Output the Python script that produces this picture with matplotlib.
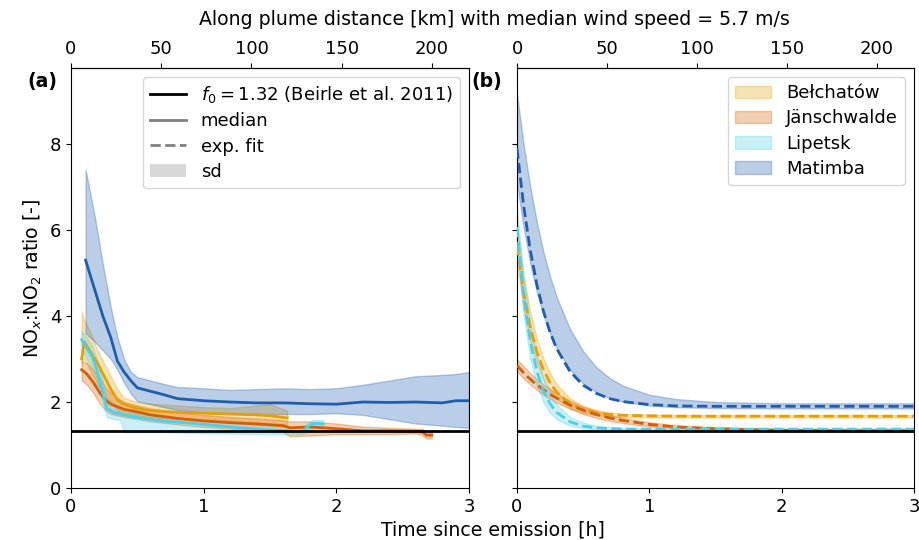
import matplotlib
matplotlib.use("Agg")
import matplotlib.pyplot as plt
from matplotlib.lines import Line2D
from matplotlib.patches import Patch

plt.rcParams['font.family'] = ['DejaVu Sans']
FS_TICK = 13
FS_LAB = 13.6
FS_LEG = 13
plt.rcParams['font.size'] = FS_TICK

# ---------------- data ----------------
plants = ['Bełchatów', 'Jänschwalde', 'Lipetsk', 'Matimba']
colors = ['#E69F00', '#D55E00', '#4DCFEA', '#1F5DB0']
f0_beirle = 1.32
km_per_hour = 73.5

# panel (a): medians and sd bands
bel_t = [0.08, 0.10, 0.15, 0.20, 0.25, 0.30, 0.35, 0.40, 0.50, 0.60, 0.80, 1.00, 1.20, 1.40, 1.50, 1.63]
bel_med = [3.00, 3.40, 3.15, 2.90, 2.60, 2.30, 2.05, 1.95, 1.85, 1.80, 1.76, 1.74, 1.72, 1.70, 1.68, 1.63]
bel_hi = [4.10, 3.90, 3.60, 3.20, 2.90, 2.60, 2.30, 2.10, 2.00, 1.96, 1.92, 1.88, 1.86, 1.92, 1.95, 1.80]
bel_lo = [2.90, 3.00, 2.70, 2.40, 2.20, 2.00, 1.80, 1.72, 1.68, 1.64, 1.62, 1.60, 1.57, 1.53, 1.50, 1.45]

jan_t = [0.08, 0.12, 0.17, 0.22, 0.26, 0.30, 0.40, 0.50, 0.60, 0.80, 1.00, 1.20, 1.40, 1.60, 1.65, 1.80, 2.00, 2.20, 2.40, 2.60, 2.65, 2.68, 2.72]
jan_med = [2.75, 2.65, 2.45, 2.20, 2.05, 1.95, 1.83, 1.77, 1.70, 1.62, 1.56, 1.52, 1.49, 1.45, 1.40, 1.42, 1.38, 1.33, 1.33, 1.32, 1.30, 1.23, 1.23]
jan_hi = [2.95, 2.90, 2.75, 2.55, 2.35, 2.20, 2.00, 1.92, 1.85, 1.76, 1.70, 1.65, 1.62, 1.58, 1.55, 1.55, 1.50, 1.43, 1.40, 1.38, 1.38, 1.30, 1.30]
jan_lo = [2.50, 2.40, 2.20, 1.95, 1.80, 1.72, 1.65, 1.60, 1.55, 1.48, 1.42, 1.38, 1.33, 1.30, 1.20, 1.22, 1.25, 1.25, 1.25, 1.27, 1.22, 1.15, 1.15]

lip_t = [0.08, 0.12, 0.16, 0.20, 0.24, 0.27, 0.32, 0.37, 0.40, 0.50, 0.70, 0.90, 1.10, 1.30, 1.50, 1.65, 1.75, 1.78, 1.82, 1.90]
lip_med = [3.45, 3.25, 3.05, 2.70, 2.20, 1.85, 1.76, 1.72, 1.70, 1.64, 1.56, 1.51, 1.45, 1.39, 1.35, 1.32, 1.32, 1.42, 1.50, 1.50]
lip_hi = [3.65, 3.50, 3.30, 2.95, 2.50, 2.10, 1.95, 1.86, 1.82, 1.74, 1.66, 1.60, 1.55, 1.50, 1.45, 1.42, 1.42, 1.50, 1.58, 1.58]
lip_lo = [3.20, 3.00, 2.80, 2.45, 2.00, 1.65, 1.60, 1.58, 1.30, 1.30, 1.30, 1.28, 1.27, 1.26, 1.25, 1.25, 1.26, 1.30, 1.40, 1.40]

mat_t = [0.11, 0.18, 0.24, 0.30, 0.35, 0.40, 0.45, 0.50, 0.60, 0.70, 0.80, 1.00, 1.20, 1.40, 1.60, 1.80, 2.00, 2.20, 2.40, 2.60, 2.80, 2.90, 3.00]
mat_med = [5.30, 4.60, 4.00, 3.50, 2.95, 2.70, 2.50, 2.33, 2.25, 2.17, 2.08, 2.03, 2.00, 1.98, 1.98, 1.96, 1.95, 2.00, 1.99, 2.00, 1.98, 2.03, 2.03]
mat_hi = [7.40, 6.30, 5.20, 4.20, 3.50, 3.00, 2.70, 2.58, 2.50, 2.42, 2.35, 2.32, 2.28, 2.30, 2.32, 2.30, 2.32, 2.40, 2.50, 2.60, 2.63, 2.65, 2.70]
mat_lo = [3.60, 3.40, 3.20, 3.00, 2.75, 2.45, 2.20, 2.02, 1.95, 1.88, 1.82, 1.75, 1.74, 1.72, 1.72, 1.72, 1.74, 1.70, 1.60, 1.50, 1.45, 1.42, 1.40]

# panel (b): exponential fits and their bands, read at common times
fit_t = [0, 0.05, 0.1, 0.15, 0.2, 0.25, 0.3, 0.4, 0.5, 0.6, 0.7, 0.8, 1.0, 1.2, 1.5, 2.0, 2.5, 3.0]
bel_fit = [5.65, 4.54, 3.74, 3.16, 2.75, 2.45, 2.23, 1.96, 1.82, 1.75, 1.71, 1.69, 1.68, 1.67, 1.67, 1.67, 1.67, 1.67]
bel_fit_hi = [6.10, 4.95, 4.10, 3.47, 3.01, 2.67, 2.41, 2.09, 1.91, 1.82, 1.76, 1.73, 1.71, 1.70, 1.70, 1.70, 1.70, 1.70]
bel_fit_lo = [5.24, 4.17, 3.42, 2.89, 2.52, 2.26, 2.08, 1.86, 1.75, 1.69, 1.67, 1.65, 1.64, 1.64, 1.64, 1.64, 1.64, 1.64]

jan_fit = [2.85, 2.68, 2.53, 2.40, 2.29, 2.18, 2.09, 1.93, 1.81, 1.71, 1.63, 1.57, 1.48, 1.42, 1.38, 1.34, 1.33, 1.33]
jan_fit_hi = [3.00, 2.83, 2.67, 2.53, 2.41, 2.30, 2.20, 2.03, 1.89, 1.79, 1.70, 1.63, 1.53, 1.46, 1.41, 1.37, 1.36, 1.35]
jan_fit_lo = [2.71, 2.55, 2.41, 2.28, 2.17, 2.07, 1.98, 1.84, 1.72, 1.63, 1.56, 1.51, 1.43, 1.39, 1.35, 1.32, 1.31, 1.31]

lip_fit = [6.07, 4.47, 3.41, 2.72, 2.26, 1.96, 1.76, 1.54, 1.44, 1.40, 1.38, 1.37, 1.37, 1.37, 1.37, 1.37, 1.37, 1.37]
lip_fit_hi = [6.49, 4.91, 3.82, 3.07, 2.55, 2.19, 1.94, 1.65, 1.52, 1.45, 1.42, 1.40, 1.39, 1.39, 1.39, 1.39, 1.39, 1.39]
lip_fit_lo = [5.65, 4.02, 3.01, 2.38, 1.99, 1.75, 1.60, 1.45, 1.39, 1.36, 1.35, 1.35, 1.35, 1.35, 1.35, 1.35, 1.35, 1.35]

mat_fit = [7.90, 6.57, 5.54, 4.73, 4.11, 3.62, 3.24, 2.71, 2.39, 2.20, 2.08, 2.01, 1.94, 1.91, 1.90, 1.90, 1.90, 1.90]
mat_fit_hi = [9.17, 7.99, 7.01, 6.18, 5.49, 4.92, 4.44, 3.70, 3.18, 2.81, 2.56, 2.38, 2.17, 2.07, 2.00, 1.97, 1.97, 1.97]
mat_fit_lo = [7.09, 6.06, 5.23, 4.56, 4.03, 3.60, 3.26, 2.76, 2.43, 2.23, 2.09, 2.01, 1.92, 1.88, 1.86, 1.85, 1.85, 1.85]

# ---------------- figure ----------------
fig = plt.figure(figsize=(9.2, 5.4), dpi=100)
ax1 = fig.add_axes([71 / 920, 52 / 540, 398 / 920, 420 / 540])
ax2 = fig.add_axes([517 / 920, 52 / 540, 397 / 920, 420 / 540])

band_alpha = 0.3
lw = 2

left_series = [
    (bel_t, bel_med, bel_lo, bel_hi),
    (jan_t, jan_med, jan_lo, jan_hi),
    (lip_t, lip_med, lip_lo, lip_hi),
    (mat_t, mat_med, mat_lo, mat_hi),
]
for (t, med, lo, hi), c in zip(left_series, colors):
    ax1.fill_between(t, lo, hi, color=c, alpha=band_alpha, zorder=1)
for (t, med, lo, hi), c in zip(left_series, colors):
    ax1.plot(t, med, color=c, lw=lw, zorder=3)

right_series = [
    (bel_fit, bel_fit_lo, bel_fit_hi),
    (jan_fit, jan_fit_lo, jan_fit_hi),
    (lip_fit, lip_fit_lo, lip_fit_hi),
    (mat_fit, mat_fit_lo, mat_fit_hi),
]
for (fit, lo, hi), c in zip(right_series, colors):
    ax2.fill_between(fit_t, lo, hi, color=c, alpha=band_alpha, zorder=1)
for (fit, lo, hi), c in zip(right_series, colors):
    ax2.plot(fit_t, fit, color=c, lw=lw, ls='--', zorder=3)

for ax in (ax1, ax2):
    ax.axhline(f0_beirle, color='black', lw=2, zorder=4)
    ax.set_xlim(0, 3)
    ax.set_ylim(0, 9.77)
    ax.set_xticks([0, 1, 2, 3])
    ax.set_yticks([0, 2, 4, 6, 8])
    ax.tick_params(labelsize=FS_TICK)
    sec = ax.secondary_xaxis('top', functions=(lambda t: t * km_per_hour,
                                               lambda d: d / km_per_hour))
    sec.set_xticks([0, 50, 100, 150, 200])
    sec.tick_params(labelsize=FS_TICK)

ax2.set_yticklabels([])
ax1.set_ylabel('NO$_x$:NO$_2$ ratio [-]', fontsize=FS_LAB)

ax1.text(-0.035, 0.968, '(a)', transform=ax1.transAxes, ha='right', va='center',
         fontsize=FS_LAB, fontweight='bold')
ax2.text(-0.038, 0.968, '(b)', transform=ax2.transAxes, ha='right', va='center',
         fontsize=FS_LAB, fontweight='bold')

fig.text(0.537, 0.963, 'Along plume distance [km] with median wind speed = 5.7 m/s',
         ha='center', va='center', fontsize=FS_LAB)
fig.text(0.536, 0.019, 'Time since emission [h]', ha='center', va='center', fontsize=FS_LAB)

h1 = [
    Line2D([], [], color='black', lw=2),
    Line2D([], [], color='grey', lw=2),
    Line2D([], [], color='grey', lw=2, ls='--'),
    Patch(facecolor='grey', alpha=0.3, edgecolor='none'),
]
l1 = [r'$f_0 = 1.32$ (Beirle et al. 2011)', 'median', 'exp. fit', 'sd']
ax1.legend(h1, l1, loc='upper right', fontsize=FS_LEG, labelspacing=0.4)

h2 = [Patch(facecolor=c, edgecolor=c, alpha=band_alpha) for c in colors]
ax2.legend(h2, plants, loc='upper right', fontsize=FS_LEG, labelspacing=0.4)

fig.savefig('out.png', dpi=100)
